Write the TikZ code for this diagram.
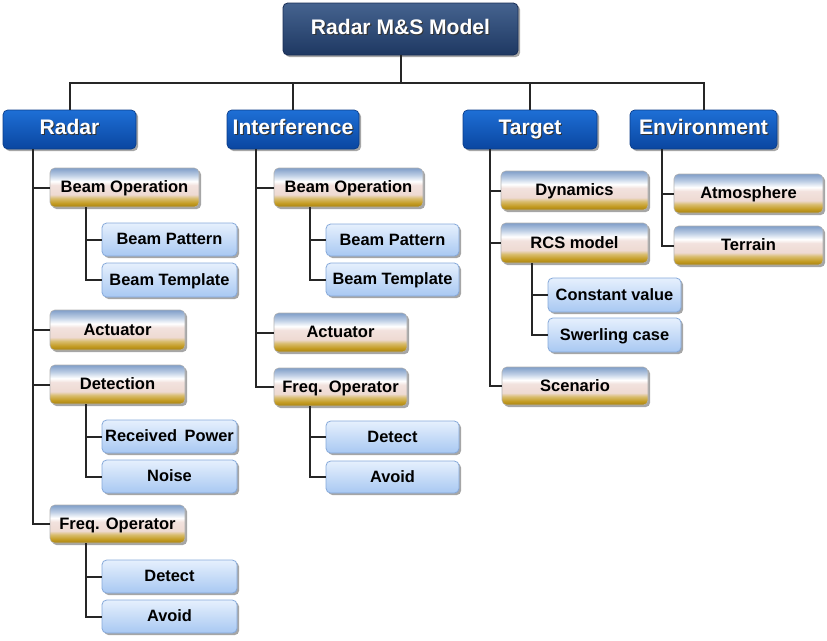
\documentclass[tikz,border=0pt]{standalone}
\usepackage{fontspec}
\setmainfont{Liberation Sans}
\usetikzlibrary{shadows}
\definecolor{g0}{HTML}{A88210}
\definecolor{g1}{HTML}{C49C24}
\definecolor{g2}{HTML}{D8BC6C}
\definecolor{g3}{HTML}{EEDAD2}
\definecolor{g4}{HTML}{F2E2DE}
\definecolor{g5}{HTML}{FFFFFF}
\definecolor{g6}{HTML}{BCCDE4}
\definecolor{g7}{HTML}{809EC8}
\pgfdeclareverticalshading{goldsh}{100bp}{color(0bp)=(g0); color(25bp)=(g0); color(30bp)=(g1); color(36bp)=(g2); color(41bp)=(g3); color(53bp)=(g4); color(58bp)=(g5); color(66bp)=(g6); color(75bp)=(g7); color(100bp)=(g7)}
\definecolor{lbtop}{HTML}{E6F0FD}
\definecolor{lbbot}{HTML}{A8C8F2}
\definecolor{lbline}{HTML}{86A9DA}
\definecolor{bltop}{HTML}{1E6FD6}
\definecolor{blbot}{HTML}{0A46A0}
\definecolor{blline}{HTML}{0A3C88}
\definecolor{rttop}{HTML}{45638F}
\definecolor{rtbot}{HTML}{1E3862}
\definecolor{rtline}{HTML}{1A2E55}
\newcommand\sht[1]{\rlap{\kern0.8pt\raisebox{-0.8pt}{\color{black!80}#1}}#1}
\newcommand\bx[7]{\node[#6, minimum width={(#4-#2)*0.75pt}, minimum height={(#5-#3)*0.75pt}] (#1) at ({(#2+#4)/2},{(#3+#5)/2}) {#7};}
\tikzset{
  boxbase/.style={rounded corners=3.5pt, inner sep=0pt, text height=0.8em, text depth=0pt,
    drop shadow={shadow xshift=1.6pt, shadow yshift=-1.6pt, opacity=0.35, fill=black}},
  rootbox/.style={boxbase, shade, top color=rttop, bottom color=rtbot, draw=rtline, line width=0.6pt, text=white, font=\bfseries\fontsize{15.8}{18}\selectfont},
  bluebox/.style={boxbase, shade, top color=bltop, bottom color=blbot, draw=blline, line width=0.5pt, text=white, font=\bfseries\fontsize{15.8}{18}\selectfont},
  goldbox/.style={boxbase, shade, shading=goldsh, draw=black!30, line width=0.4pt, text=black, font=\bfseries\fontsize{12.4}{14}\selectfont},
  lightbox/.style={boxbase, shade, top color=lbtop, bottom color=lbbot, draw=lbline, line width=0.6pt, text=black, font=\bfseries\fontsize{12.3}{14}\selectfont},
  conn/.style={draw=black!85, line width=1.5pt}
}
\begin{document}
\begin{tikzpicture}[x=0.75pt,y=-0.75pt]
\useasboundingbox (0,0) rectangle (827,640);
% root and level 1
\bx{root}{283}{3}{518}{55}{rootbox}{\sht{Radar M\&S Model}}
\bx{radar}{3}{110}{136}{149}{bluebox}{\sht{Radar}}
\bx{inter}{227}{110}{359}{149}{bluebox}{\sht{Interference}}
\bx{target}{463}{110}{597}{149}{bluebox}{\sht{Target}}
\bx{env}{630}{110}{777}{149}{bluebox}{\sht{Environment}}
% Radar column
\bx{rbop}{50}{168}{199}{207}{goldbox}{Beam Operation}
\bx{rbp}{102}{223}{237}{256}{lightbox}{Beam Pattern}
\bx{rbt}{102}{263}{237}{297}{lightbox}{Beam Template}
\bx{ract}{50}{310}{185}{350}{goldbox}{Actuator}
\bx{rdet}{50}{365}{185}{404}{goldbox}{Detection}
\bx{rrp}{102}{420}{237}{453}{lightbox}{Received\hspace{0.45em}Power}
\bx{rnoise}{102}{460}{237}{493}{lightbox}{Noise}
\bx{rfop}{50}{505}{185}{543}{goldbox}{Freq. Operator}
\bx{rdetect}{102}{560}{237}{593}{lightbox}{Detect}
\bx{ravoid}{102}{600}{237}{633}{lightbox}{Avoid}
% Interference column
\bx{ibop}{274}{168}{423}{207}{goldbox}{Beam Operation}
\bx{ibp}{326}{224}{459}{256}{lightbox}{Beam Pattern}
\bx{ibt}{326}{263}{459}{296}{lightbox}{Beam Template}
\bx{iact}{274}{313}{407}{352}{goldbox}{Actuator}
\bx{ifop}{274}{368}{407}{406}{goldbox}{Freq. Operator}
\bx{idetect}{326}{421}{459}{453}{lightbox}{Detect}
\bx{iavoid}{326}{461}{459}{493}{lightbox}{Avoid}
% Target column
\bx{tdyn}{501}{171}{648}{210}{goldbox}{Dynamics}
\bx{trcs}{501}{223}{648}{263}{goldbox}{RCS model}
\bx{tcv}{548}{278}{681}{312}{lightbox}{Constant value}
\bx{tsw}{548}{318}{681}{352}{lightbox}{Swerling case}
\bx{tscen}{502}{367}{648}{405}{goldbox}{Scenario}
% Environment column
\bx{eatm}{674}{174}{823}{213}{goldbox}{Atmosphere}
\bx{eter}{674}{226}{823}{265}{goldbox}{Terrain}
% trunk coordinates
\coordinate (bar) at (400,83);
\coordinate (rT) at (33,0);
\coordinate (rS) at (86,0);
\coordinate (iT) at (256,0);
\coordinate (iS) at (310,0);
\coordinate (tT) at (490,0);
\coordinate (tS) at (532,0);
\coordinate (eT) at (662,0);
% top connectors
\draw[conn] (root.south) -- (root.south |- bar);
\draw[conn] (radar.north) |- (root.south |- bar) -| (env.north);
\draw[conn] (inter.north) -- (inter.north |- bar);
\draw[conn] (target.north) -- (target.north |- bar);
% Radar
\foreach \c in {rbop,ract,rdet,rfop}{\draw[conn] (radar.south -| rT) |- (\c.west);}
\foreach \c in {rbp,rbt}{\draw[conn] (rbop.south -| rS) |- (\c.west);}
\foreach \c in {rrp,rnoise}{\draw[conn] (rdet.south -| rS) |- (\c.west);}
\foreach \c in {rdetect,ravoid}{\draw[conn] (rfop.south -| rS) |- (\c.west);}
% Interference
\foreach \c in {ibop,iact,ifop}{\draw[conn] (inter.south -| iT) |- (\c.west);}
\foreach \c in {ibp,ibt}{\draw[conn] (ibop.south -| iS) |- (\c.west);}
\foreach \c in {idetect,iavoid}{\draw[conn] (ifop.south -| iS) |- (\c.west);}
% Target
\foreach \c in {tdyn,trcs,tscen}{\draw[conn] (target.south -| tT) |- (\c.west);}
\foreach \c in {tcv,tsw}{\draw[conn] (trcs.south -| tS) |- (\c.west);}
% Environment
\foreach \c in {eatm,eter}{\draw[conn] (env.south -| eT) |- (\c.west);}
\end{tikzpicture}
\end{document}
